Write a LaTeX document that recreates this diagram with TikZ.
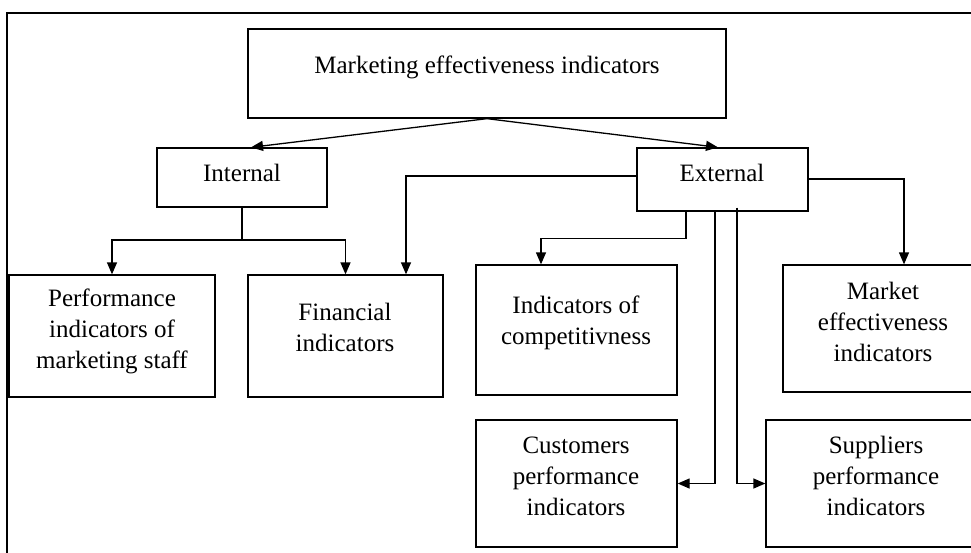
\documentclass[tikz,border=0pt]{standalone}
\usepackage{fontspec}
\setmainfont{Liberation Serif}
\usetikzlibrary{arrows.meta}
\begin{document}
\begin{tikzpicture}[x = 1pt, y = -1pt, line width = 1.3pt,
    box/.style = {draw, rectangle, inner sep = 0pt},
    txt/.style = {align = center, inner sep = 0pt, font = \fontsize{25}{31}\selectfont},
    arr/.style = {-{Triangle[length = 12pt, width = 10pt]}}]

    \useasboundingbox (0,0) rectangle (971,552);
    \clip (0,0) rectangle (971,552);

    % outer frame
    \draw (7,560) -- (7,13) -- (990,13);

    % boxes
    \node[box, minimum width = 478pt, minimum height = 89pt] (top) at (487,73.5) {};
    \node[txt] (topT) at (487,67) {Marketing effectiveness indicators};

    \node[box, minimum width = 170pt, minimum height = 59pt] (int) at (242,177.5) {};
    \node[txt] (intT) at (242,173) {Internal};
    \node[box, minimum width = 171pt, minimum height = 63pt] (ext) at (722.5,179.5) {};
    \node[txt] (extT) at (722,173) {External};

    \node[box, minimum width = 206pt, minimum height = 122pt] (perf) at (112,336) {};
    \node[txt] (perfT) at (112,331) {Performance\\indicators of\\marketing staff};
    \node[box, minimum width = 195pt, minimum height = 122pt] (fin) at (345.5,336) {};
    \node[txt] (finT) at (345,327) {Financial\\indicators};
    \node[box, minimum width = 201pt, minimum height = 130pt] (comp) at (576.5,330) {};
    \node[txt] (compT) at (576,323) {Indicators of\\competitivness};
    \node[box, minimum width = 200pt, minimum height = 127pt] (mkt) at (883,328.5) {};
    \node[txt] (mktT) at (883,322) {Market\\effectiveness\\indicators};

    \node[box, minimum width = 201pt, minimum height = 127pt] (cust) at (576.5,483.5) {};
    \node[txt] (custT) at (576,476) {Customers\\performance\\indicators};
    \node[box, minimum width = 220pt, minimum height = 127pt] (sup) at (876,483.5) {};
    \node[txt] (supT) at (876,476) {Suppliers\\performance\\indicators};

    % connectors
    \draw[arr] (top.south) -- ([xshift = 9pt]int.north);
    \draw[arr] (top.south) -- ([xshift = -4.5pt]ext.north);

    \coordinate (intjoin) at (242,240);
    \draw (int.south) -- (intjoin);
    \draw[arr] (intjoin) -| (perf.north);
    \draw[arr] (intjoin) -| (fin.north);

    \draw[arr] ([yshift = 3.5pt]ext.west) -| ([xshift = 60.5pt]fin.north);
    \draw[arr] ([yshift = 0.5pt]ext.east) -| ([xshift = 21pt]mkt.north);
    \draw[arr] ([xshift = -36.5pt]ext.south) -- ++(0,27) -| ([xshift = -35.5pt]comp.north);
    \draw[arr] ([xshift = -7.5pt]ext.south) |- (cust.east);
    \draw[arr] ([xshift = 14.5pt, yshift = 4pt]ext.south) |- (sup.west);

\end{tikzpicture}
\end{document}
